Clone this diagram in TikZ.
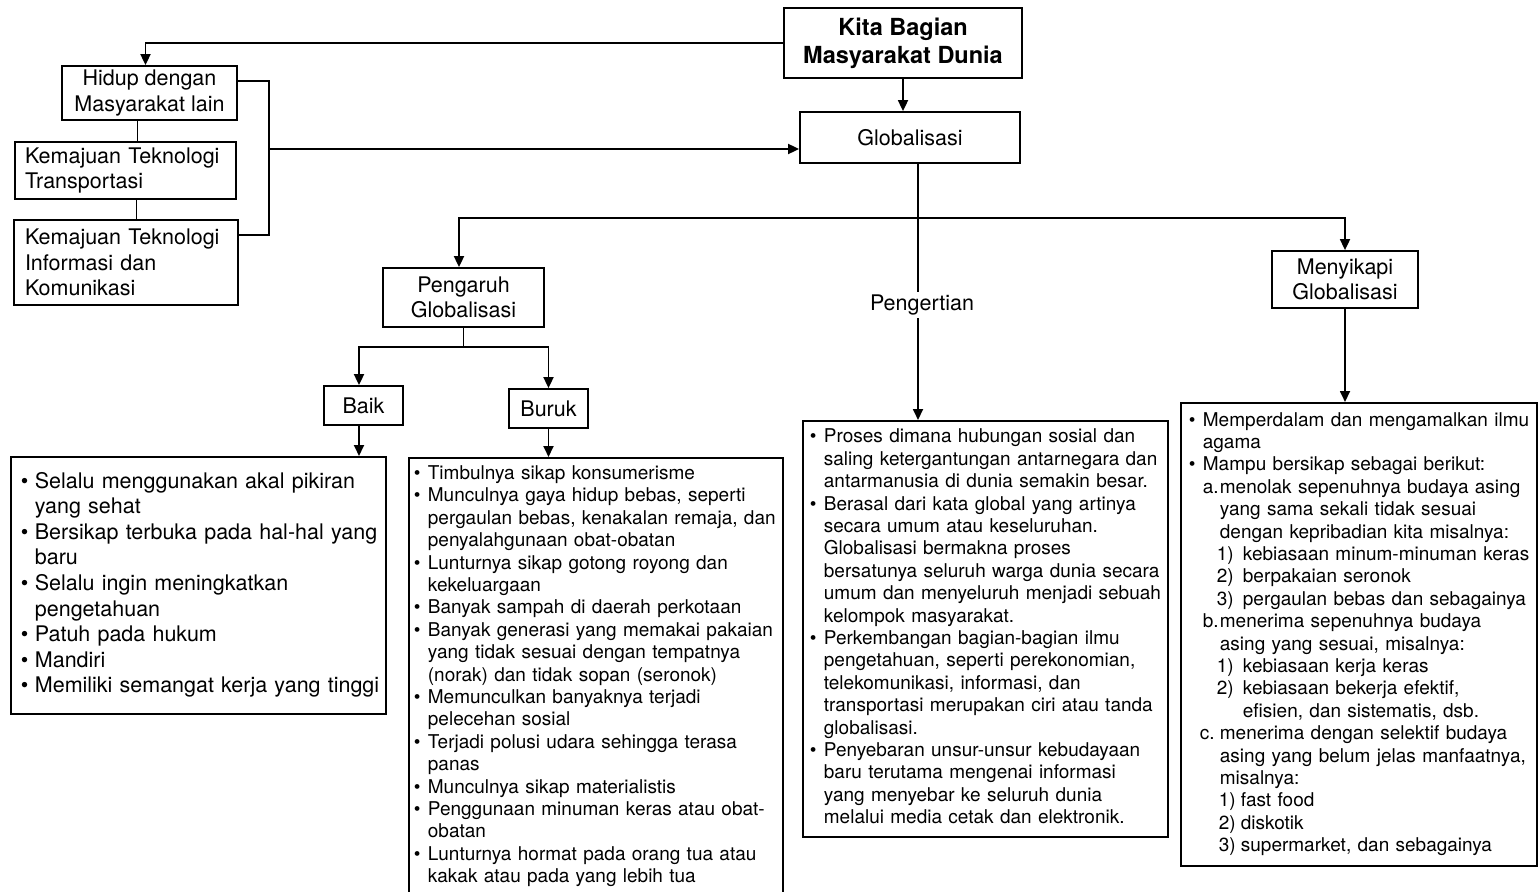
\documentclass[tikz,border=0pt]{standalone}
\usepackage{fontspec}
\setmainfont{TeX Gyre Heros}
\usepackage{tikz}
\usetikzlibrary{arrows.meta}

\newcommand{\bl}{\makebox[14pt][l]{\textbullet}}
\newcommand{\cl}{\hspace*{14pt}}
\newcommand{\lbl}[3]{\hspace*{#1pt}\makebox[#2pt][l]{#3}}

\begin{document}
\begin{tikzpicture}[x=1pt,y=-1pt,
			box/.style={draw,line width=1.8pt,inner sep=0pt,align=center,font=\fontsize{21.5}{25.5}\selectfont},
			listbox/.style={draw,line width=1.8pt,anchor=north west,inner ysep=0pt,font=\fontsize{19}{22.4}\selectfont},
			arr/.style={line width=1.8pt,-{Triangle[width=10pt,length=11pt]}},
			link/.style={line width=1.8pt}]
	\useasboundingbox (0,0) rectangle (1538,891);
	% top
	\node[box,minimum width=238pt,minimum height=70pt,font=\fontsize{23.5}{28}\selectfont\bfseries] (kita) at (903,43) {Kita Bagian\\Masyarakat Dunia};
	\node[box,minimum width=220pt,minimum height=51pt] (glob) at (910,137.5) {Globalisasi};
	% left side
	\node[box,minimum width=175pt,minimum height=54pt] (hidup) at (149.5,93) {Hidup dengan\\Masyarakat lain};
	\node[box,align=left,text width=201pt,inner xsep=10pt,minimum height=57pt] (trans) at (125.5,170.5) {Kemajuan Teknologi\\Transportasi};
	\node[box,align=left,text width=202pt,inner xsep=11pt,minimum height=85pt] (info) at (126,262.5) {Kemajuan Teknologi\\Informasi dan\\Komunikasi};
	% second level
	\node[box,minimum width=161pt,minimum height=59pt] (pengaruh) at (463.5,297.5) {Pengaruh\\Globalisasi};
	\node[box,minimum width=146pt,minimum height=57pt] (menyikapi) at (1345,279.5) {Menyikapi\\Globalisasi};
	\node[box,minimum width=79pt,minimum height=39pt] (baik) at (363.5,405.5) {Baik};
	\node[box,minimum width=79pt,minimum height=39pt] (buruk) at (548.5,408.5) {Buruk};
	% lists
	\node[listbox,inner xsep=10pt,text width=355pt,minimum height=257pt,font=\fontsize{21.5}{25.6}\selectfont] (baiklist) at (10,456) {\noindent\begin{tabular}{@{}l@{}}
		\bl Selalu menggunakan akal pikiran\\
		\cl yang sehat\\
		\bl Bersikap terbuka pada hal-hal yang\\
		\cl baru\\
		\bl Selalu ingin meningkatkan\\
		\cl pengetahuan\\
		\bl Patuh pada hukum\\
		\bl Mandiri\\
		\bl Memiliki semangat kerja yang tinggi
	\end{tabular}};
	\node[listbox,inner xsep=5pt,inner ysep=6pt,text width=364pt] (buruklist) at (408,457) {\noindent\begin{tabular}{@{}l@{}}
		\bl Timbulnya sikap konsumerisme\\
		\bl Munculnya gaya hidup bebas, seperti\\
		\cl pergaulan bebas, kenakalan remaja, dan\\
		\cl penyalahgunaan obat-obatan\\
		\bl Lunturnya sikap gotong royong dan\\
		\cl kekeluargaan\\
		\bl Banyak sampah di daerah perkotaan\\
		\bl Banyak generasi yang memakai pakaian\\
		\cl yang tidak sesuai dengan tempatnya\\
		\cl (norak) dan tidak sopan (seronok)\\
		\bl Memunculkan banyaknya terjadi\\
		\cl pelecehan sosial\\
		\bl Terjadi polusi udara sehingga terasa\\
		\cl panas\\
		\bl Munculnya sikap materialistis\\
		\bl Penggunaan minuman keras atau obat-\\
		\cl obatan\\
		\bl Lunturnya hormat pada orang tua atau\\
		\cl kakak atau pada yang lebih tua
	\end{tabular}};
	\node[listbox,inner xsep=7pt,text width=351pt,minimum height=416pt] (pgtlist) at (802,420) {\noindent\begin{tabular}{@{}l@{}}
		\bl Proses dimana hubungan sosial dan\\
		\cl saling ketergantungan antarnegara dan\\
		\cl antarmanusia di dunia semakin besar.\\
		\bl Berasal dari kata global yang artinya\\
		\cl secara umum atau keseluruhan.\\
		\cl Globalisasi bermakna proses\\
		\cl bersatunya seluruh warga dunia secara\\
		\cl umum dan menyeluruh menjadi sebuah\\
		\cl kelompok masyarakat.\\
		\bl Perkembangan bagian-bagian ilmu\\
		\cl pengetahuan, seperti perekonomian,\\
		\cl telekomunikasi, informasi, dan\\
		\cl transportasi merupakan ciri atau tanda\\
		\cl globalisasi.\\
		\bl Penyebaran unsur-unsur kebudayaan\\
		\cl baru terutama mengenai informasi\\
		\cl yang menyebar ke seluruh dunia\\
		\cl melalui media cetak dan elektronik.
	\end{tabular}};
	\node[listbox,inner xsep=8pt,text width=340pt,minimum height=463pt] (menylist) at (1180,402) {\noindent\begin{tabular}{@{}l@{}}
		\bl Memperdalam dan mengamalkan ilmu\\
		\cl agama\\
		\bl Mampu bersikap sebagai berikut:\\
		\lbl{14}{17}{a.}menolak sepenuhnya budaya asing\\
		\hspace*{31pt}yang sama sekali tidak sesuai\\
		\hspace*{31pt}dengan kepribadian kita misalnya:\\
		\lbl{28}{26}{1)}kebiasaan minum-minuman keras\\
		\lbl{28}{26}{2)}berpakaian seronok\\
		\lbl{28}{26}{3)}pergaulan bebas dan sebagainya\\
		\lbl{14}{17}{b.}menerima sepenuhnya budaya\\
		\hspace*{31pt}asing yang sesuai, misalnya:\\
		\lbl{28}{26}{1)}kebiasaan kerja keras\\
		\lbl{28}{26}{2)}kebiasaan bekerja efektif,\\
		\hspace*{54pt}efisien, dan sistematis, dsb.\\
		\lbl{11}{20}{c.}menerima dengan selektif budaya\\
		\hspace*{31pt}asing yang belum jelas manfaatnya,\\
		\hspace*{31pt}misalnya:\\
		\lbl{30}{22}{1)}fast food\\
		\lbl{30}{22}{2)}diskotik\\
		\lbl{30}{22}{3)}supermarket, dan sebagainya
	\end{tabular}};
	% connectors
	\coordinate (bt) at (269,81);
	\coordinate (bm) at (269,149);
	\coordinate (bb) at (269,235);
	\draw[arr] (kita.west) -| ([xshift=-4pt]hidup.north);
	\draw[arr] (kita.south) -- (kita.south |- glob.north);
	\draw[link] ([xshift=-12pt]hidup.south) -- ([xshift=-12pt]hidup.south |- trans.north);
	\draw[link] ([xshift=11pt]trans.south) -- ([xshift=11pt]trans.south |- info.north);
	\draw[link] (hidup.east |- bt) -- (bt) -- (bb) -- (info.east |- bb);
	\draw[arr] (bm) -- (bm -| glob.west);
	\coordinate (gdown) at ([xshift=8pt]glob.south);
	\coordinate (split) at (gdown |- 0,218);
	\draw[arr] (gdown) -- (gdown |- pgtlist.north);
	\draw[arr] (split) -| ([xshift=-4.5pt]pengaruh.north);
	\draw[arr] (split) -| (menyikapi.north);
	\draw[arr] (menyikapi.south) -- (menyikapi.south |- menylist.north);
	\coordinate (psplit) at ([yshift=-19pt]pengaruh.south);
	\draw[link] (pengaruh.south) -- (psplit);
	\draw[arr] (psplit) -| ([xshift=-4.5pt]baik.north);
	\draw[arr] (psplit) -| (buruk.north);
	\draw[arr] ([xshift=-4.5pt]baik.south) -- ([xshift=-4.5pt]baik.south |- baiklist.north);
	\draw[arr] (buruk.south) -- (buruk.south |- buruklist.north);
	\node[fill=white,inner sep=3pt,font=\fontsize{21.5}{25.5}\selectfont] (pgt) at (922,305) {Pengertian};
\end{tikzpicture}
\end{document}
